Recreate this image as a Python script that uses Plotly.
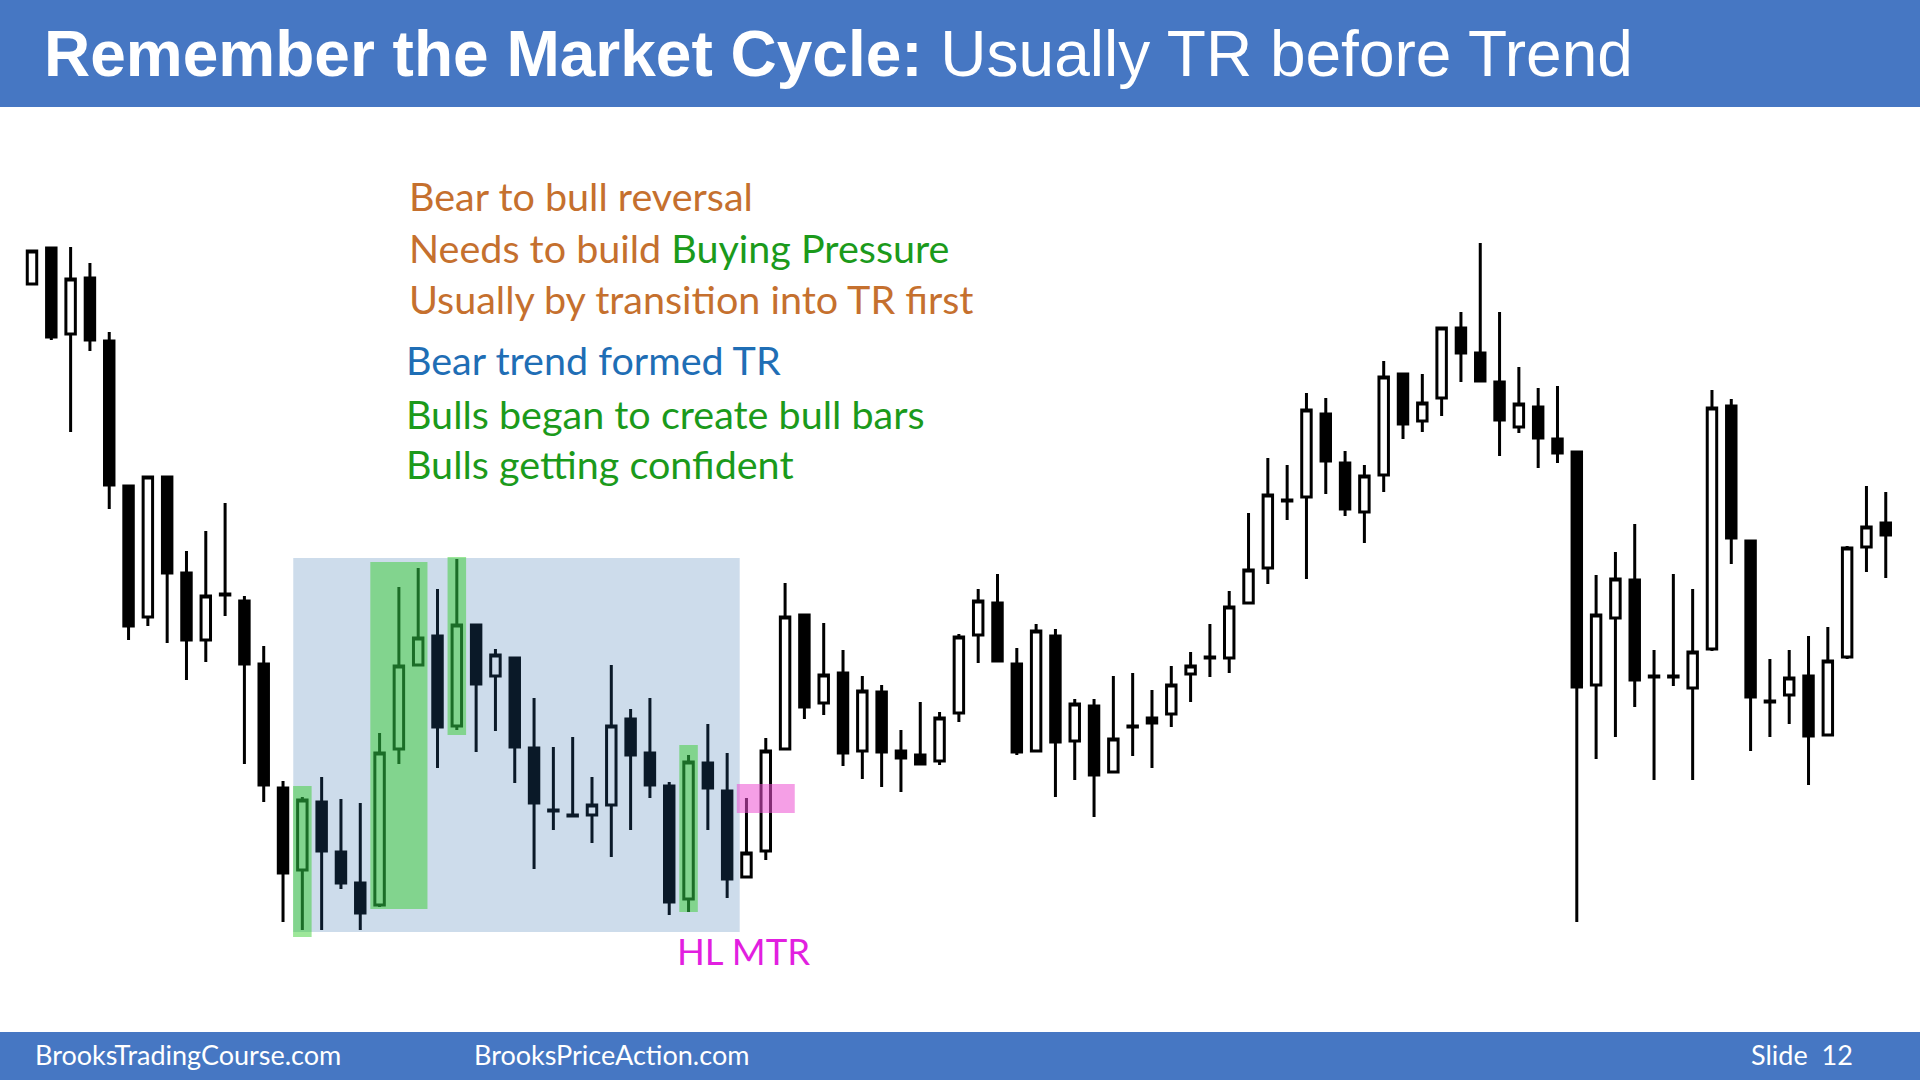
import plotly.graph_objects as go

# ---------------- data (price units) ----------------
opens = [716, 752, 666, 722, 659, 514, 383, 523, 427, 360,
         406, 399, 336, 212, 130, 198, 148, 117, 95, 251,
         335, 364, 274, 375, 324, 342, 252, 190, 185, 185,
         195, 281, 247, 214, 101, 237, 209, 123, 149, 251,
         385, 297, 327, 249, 308, 249, 245, 239, 287, 365,
         397, 336, 249, 364, 259, 294, 228, 274, 282, 286,
         326, 343, 342, 397, 432, 500, 503, 586, 537, 488,
         525, 626, 579, 602, 672, 647, 618, 573, 593, 561,
         548, 315, 382, 420, 324, 324, 312, 351, 594, 459,
         299, 305, 324, 265, 343, 453, 477]
highs = [749, 753, 753, 737, 668, 514, 523, 524, 449, 469,
         497, 404, 354, 219, 203, 223, 201, 197, 267, 413,
         432, 411, 441, 376, 351, 342, 302, 253, 263, 223,
         335, 291, 302, 218, 245, 276, 247, 202, 262, 417,
         385, 377, 350, 324, 315, 270, 298, 288, 366, 411,
         426, 352, 376, 371, 301, 301, 324, 327, 310, 334,
         348, 376, 409, 487, 542, 535, 607, 602, 549, 535,
         639, 626, 626, 672, 688, 757, 688, 633, 612, 614,
         549, 425, 448, 476, 350, 426, 411, 610, 601, 459,
         341, 350, 364, 373, 454, 514, 508]
lows = [716, 660, 568, 649, 491, 360, 374, 357, 320, 338,
        384, 236, 198, 78, 70, 70, 111, 70, 93, 236,
        335, 232, 270, 248, 269, 217, 131, 170, 184, 157,
        143, 170, 202, 85, 88, 170, 102, 123, 140, 251,
        281, 285, 234, 221, 213, 208, 235, 235, 278, 337,
        339, 245, 248, 203, 220, 183, 228, 244, 232, 273,
        298, 323, 327, 397, 416, 480, 421, 506, 484, 457,
        508, 561, 568, 584, 618, 618, 544, 567, 532, 537,
        78, 241, 263, 293, 220, 314, 220, 349, 436, 249,
        263, 276, 215, 265, 341, 428, 422]
closes = [749, 663, 721, 660, 515, 374, 523, 427, 360, 404,
          405, 336, 215, 127, 200, 149, 117, 87, 247, 334,
          362, 273, 375, 316, 345, 253, 197, 189, 184, 195,
          274, 245, 215, 98, 238, 212, 121, 147, 249, 383,
          293, 325, 247, 309, 248, 242, 236, 282, 363, 399,
          339, 248, 369, 258, 296, 225, 261, 273, 277, 315,
          334, 342, 393, 430, 505, 499, 590, 539, 491, 524,
          623, 576, 597, 672, 647, 619, 580, 596, 562, 547,
          313, 385, 421, 320, 323, 323, 348, 592, 462, 303,
          298, 322, 264, 339, 452, 473, 465]
bars = list(range(len(opens)))

# highlighted zones: (first bar, last bar, low price, high price)
green_zones = [(14, 14, 63, 214), (18, 20, 91, 438), (22, 22, 265, 443), (34, 34, 88, 255)]
tr_zone = (14, 36, 68, 442)
mtr_zone = (37, 39, 187, 216)

title_bold = "Remember the Market Cycle:"
title_rest = "Usually TR before Trend"
notes_top = ["Bear to bull reversal", "Needs to build ", "Buying Pressure",
             "Usually by transition into TR first"]
notes_bottom = ["Bear trend formed TR", "Bulls began to create bull bars",
                "Bulls getting confident"]
footer_left = "BrooksTradingCourse.com"
footer_mid = "BrooksPriceAction.com"
footer_right = "Slide\u00a0\u00a012"
mtr_label = "HL MTR"

# ---------------- layout constants ----------------
W, H = 1920, 1080
FIRST_PX, BAR_PX = 32, 19.31
ORANGE = "#C5702E"
GREEN = "#1B9A1B"
BLUE_TXT = "#1F6EB5"
HEADER = "#4677C3"


def px(x):
    return x / W


def py(y):
    return 1 - y / H


fig = go.Figure()
fig.add_trace(go.Candlestick(
    x=bars, open=opens, high=highs, low=lows, close=closes,
    increasing=dict(line=dict(color="black", width=3), fillcolor="white"),
    decreasing=dict(line=dict(color="black", width=3), fillcolor="black"),
    whiskerwidth=0, hoverinfo="skip", showlegend=False))

shapes = []
# TR zone (light blue overlay)
shapes.append(dict(type="rect", xref="x", yref="y", layer="above",
                   x0=tr_zone[0] - 0.47, x1=tr_zone[1] + 0.65,
                   y0=tr_zone[2], y1=tr_zone[3],
                   fillcolor="rgba(43,106,170,0.235)", line=dict(width=0)))
for a, b, lo, hi in green_zones:
    shapes.append(dict(type="rect", xref="x", yref="y", layer="above",
                       x0=a - 0.48, x1=b + 0.48, y0=lo, y1=hi,
                       fillcolor="rgba(47,203,39,0.47)", line=dict(width=0)))
shapes.append(dict(type="rect", xref="x", yref="y", layer="above",
                   x0=mtr_zone[0] - 0.5, x1=mtr_zone[1] + 0.5,
                   y0=mtr_zone[2], y1=mtr_zone[3],
                   fillcolor="rgba(236,80,210,0.55)", line=dict(width=0)))
# header / footer bars
shapes.append(dict(type="rect", xref="paper", yref="paper", layer="below",
                   x0=0, x1=1, y0=py(107), y1=1, fillcolor=HEADER, line=dict(width=0)))
shapes.append(dict(type="rect", xref="paper", yref="paper", layer="below",
                   x0=0, x1=1, y0=0, y1=py(1032), fillcolor=HEADER, line=dict(width=0)))

TXT = 39.5
ann = []


def note(text, x, y, color, size=TXT, family="Lato"):
    ann.append(dict(text=text, xref="paper", yref="paper", x=px(x), y=py(y),
                    xanchor="left", yanchor="middle", showarrow=False, borderpad=0,
                    font=dict(family=family, size=size, color=color)))


note(f"<b>{title_bold}</b> {title_rest}", 43, 54, "white", size=64,
     family="Liberation Sans, Arial")
note(notes_top[0], 408, 196, ORANGE)
note(f"{notes_top[1]}<span style='color:{GREEN}'>{notes_top[2]}</span>", 408, 247, ORANGE)
note(notes_top[3], 408, 298, ORANGE)
note(notes_bottom[0], 405, 359, BLUE_TXT)
note(notes_bottom[1], 405, 413, GREEN)
note(notes_bottom[2], 405, 464, GREEN)
note(mtr_label, 676, 951, "#E21FE0", size=36.5)
note(footer_left, 34, 1054, "white", size=27)
note(footer_mid, 473, 1054, "white", size=27)
note(footer_right, 1750, 1054, "white", size=27)

fig.update_layout(
    width=W, height=H, margin=dict(l=0, r=0, t=0, b=0),
    paper_bgcolor="white", plot_bgcolor="white",
    boxgap=0.3,
    shapes=shapes, annotations=ann,
    xaxis=dict(range=[-FIRST_PX / BAR_PX, (W - FIRST_PX) / BAR_PX], visible=False,
               rangeslider=dict(visible=False), fixedrange=True),
    yaxis=dict(range=[-80, 1000], visible=False, fixedrange=True),
    hovermode=False,
)

fig.write_html("out.html", config={"displayModeBar": False},
               post_script="document.body.style.margin='0';document.body.style.overflow='hidden';")
